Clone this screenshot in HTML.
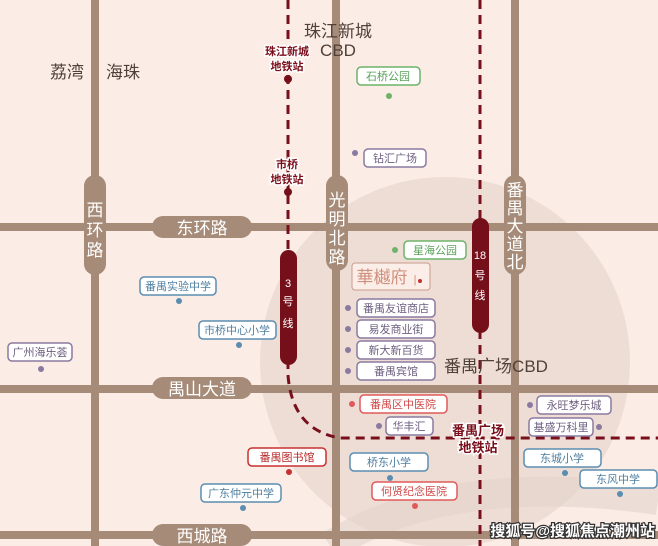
<!DOCTYPE html>
<html><head><meta charset="utf-8"><style>
body{margin:0}
svg{display:block}
text{font-family:"Liberation Sans","Noto Sans CJK SC",sans-serif}
</style></head><body>
<svg width="658" height="546" viewBox="0 0 658 546" xmlns="http://www.w3.org/2000/svg">
<rect width="658" height="546" fill="#fbece5"/>
<circle cx="445" cy="362" r="185" fill="#eeddd5"/>
<path d="M330 546 Q450 470 658 500" stroke="#e2d3cc" stroke-width="30" fill="none" opacity="0.6"/>
<g fill="#a68b78">
<rect x="91" y="0" width="8" height="546"/>
<rect x="332" y="0" width="8" height="546"/>
<rect x="511" y="0" width="8" height="546"/>
<rect x="0" y="223" width="658" height="8"/>
<rect x="0" y="385" width="658" height="8"/>
<rect x="0" y="531" width="658" height="8"/>
<rect x="84" y="175" width="22" height="100" rx="11"/>
<rect x="326" y="175" width="22" height="96" rx="11"/>
<rect x="504" y="175" width="22" height="100" rx="11"/>
<rect x="152" y="216" width="100" height="22" rx="11"/>
<rect x="152" y="377" width="100" height="22" rx="11"/>
<rect x="152" y="524" width="100" height="22" rx="11"/>
</g>
<g fill="#fff" font-size="17" text-anchor="middle">
<text x="95" y="216">西</text><text x="95" y="236">环</text><text x="95" y="256">路</text>
<text x="337" y="206">光</text><text x="337" y="225">明</text><text x="337" y="244">北</text><text x="337" y="263">路</text>
<text x="515" y="196">番</text><text x="515" y="214">禺</text><text x="515" y="232">大</text><text x="515" y="250">道</text><text x="515" y="268">北</text>
<text x="202" y="234">东环路</text>
<text x="202" y="395">禺山大道</text>
<text x="202" y="542">西城路</text>
</g>
<g stroke="#7a0f1c" stroke-width="3" fill="none" stroke-dasharray="9,6">
<path d="M288 0 V375 Q292 430 340 438 H658"/>
<path d="M480 0 V546"/>
</g>
<rect x="280" y="250" width="17" height="115" rx="8.5" fill="#75101a"/>
<rect x="472" y="218" width="17" height="115" rx="8.5" fill="#75101a"/>
<g fill="#fff" font-size="11" text-anchor="middle">
<text x="288" y="287">3</text><text x="288" y="305">号</text><text x="288" y="327">线</text>
<text x="480" y="259">18</text><text x="480" y="279">号</text><text x="480" y="299">线</text>
</g>
<circle cx="288" cy="79" r="4" fill="#75101a"/>
<circle cx="288" cy="192" r="4" fill="#75101a"/>
<g fill="#7a0f1c" font-size="11" font-weight="bold" text-anchor="middle" stroke="#fff" stroke-width="3" paint-order="stroke">
<text x="287" y="55">珠江新城</text><text x="287" y="70">地铁站</text>
<text x="287" y="168">市桥</text><text x="287" y="183">地铁站</text>
<text x="478" y="435" font-size="13">番禺广场</text><text x="478" y="452" font-size="13">地铁站</text>
</g>
<g fill="#4f4039" font-size="17" text-anchor="middle">
<text x="338" y="37">珠江新城</text><text x="338" y="56">CBD</text>
<text x="67" y="78">荔湾</text><text x="123" y="78">海珠</text>
<text x="496" y="372">番禺广场CBD</text>
</g>
<g font-size="11" text-anchor="middle" stroke-width="1.5">
<rect x="357" y="67" width="63" height="18" rx="4" fill="#fff" stroke="#6db36a"/><text x="388" y="80" fill="#5aa058">石桥公园</text>
<rect x="364" y="149" width="62" height="18" rx="4" fill="#fff" stroke="#8a7aa0"/><text x="395" y="162" fill="#6d5f80">钻汇广场</text>
<rect x="404" y="241" width="62" height="18" rx="4" fill="#fff" stroke="#6db36a"/><text x="435" y="254" fill="#5aa058">星海公园</text>
<rect x="357" y="299" width="78" height="18" rx="4" fill="#fff" stroke="#8a7aa0"/><text x="396" y="312" fill="#6d5f80">番禺友谊商店</text>
<rect x="357" y="320" width="78" height="18" rx="4" fill="#fff" stroke="#8a7aa0"/><text x="396" y="333" fill="#6d5f80">易发商业街</text>
<rect x="357" y="341" width="78" height="18" rx="4" fill="#fff" stroke="#8a7aa0"/><text x="396" y="354" fill="#6d5f80">新大新百货</text>
<rect x="357" y="362" width="78" height="18" rx="4" fill="#fff" stroke="#8a7aa0"/><text x="396" y="375" fill="#6d5f80">番禺宾馆</text>
<rect x="140" y="277" width="76" height="18" rx="4" fill="#fff" stroke="#5b8db0"/><text x="178" y="290" fill="#4f7fa0">番禺实验中学</text>
<rect x="199" y="321" width="77" height="18" rx="4" fill="#fff" stroke="#5b8db0"/><text x="237" y="334" fill="#4f7fa0">市桥中心小学</text>
<rect x="8" y="343" width="64" height="18" rx="4" fill="#fff" stroke="#8a7aa0"/><text x="40" y="356" fill="#6d5f80">广州海乐荟</text>
<rect x="360" y="395" width="87" height="18" rx="4" fill="#fff" stroke="#e05a5a"/><text x="403" y="408" fill="#d04848">番禺区中医院</text>
<rect x="386" y="417" width="47" height="18" rx="4" fill="#fff" stroke="#8a7aa0"/><text x="409" y="430" fill="#6d5f80">华丰汇</text>
<rect x="537" y="396" width="74" height="18" rx="4" fill="#fff" stroke="#8a7aa0"/><text x="574" y="409" fill="#6d5f80">永旺梦乐城</text>
<rect x="529" y="418" width="64" height="18" rx="4" fill="#fff" stroke="#8a7aa0"/><text x="561" y="431" fill="#6d5f80">基盛万科里</text>
<rect x="248" y="448" width="78" height="18" rx="4" fill="#fff" stroke="#c83030"/><text x="287" y="461" fill="#b82828">番禺图书馆</text>
<rect x="350" y="453" width="78" height="18" rx="4" fill="#fff" stroke="#5b8db0"/><text x="389" y="466" fill="#4f7fa0">桥东小学</text>
<rect x="372" y="482" width="85" height="18" rx="4" fill="#fff" stroke="#e05a5a"/><text x="414" y="495" fill="#d04848">何贤纪念医院</text>
<rect x="201" y="484" width="80" height="18" rx="4" fill="#fff" stroke="#5b8db0"/><text x="241" y="497" fill="#4f7fa0">广东仲元中学</text>
<rect x="524" y="449" width="77" height="18" rx="4" fill="#fff" stroke="#5b8db0"/><text x="562" y="462" fill="#4f7fa0">东城小学</text>
<rect x="580" y="470" width="77" height="18" rx="4" fill="#fff" stroke="#5b8db0"/><text x="618" y="483" fill="#4f7fa0">东风中学</text>
</g>
<g>
<circle cx="389" cy="96" r="3" fill="#6db36a"/>
<circle cx="355" cy="153" r="3" fill="#8a7aa0"/>
<circle cx="395" cy="250" r="3" fill="#6db36a"/>
<circle cx="348" cy="308" r="3" fill="#8a7aa0"/><circle cx="348" cy="329" r="3" fill="#8a7aa0"/>
<circle cx="348" cy="350" r="3" fill="#8a7aa0"/><circle cx="348" cy="371" r="3" fill="#8a7aa0"/>
<circle cx="179" cy="301" r="3" fill="#5b8db0"/><circle cx="239" cy="345" r="3" fill="#5b8db0"/>
<circle cx="41" cy="369" r="3" fill="#8a7aa0"/>
<circle cx="352" cy="404" r="3" fill="#e05a5a"/><circle cx="379" cy="426" r="3" fill="#8a7aa0"/>
<circle cx="530" cy="405" r="3" fill="#8a7aa0"/><circle cx="599" cy="427" r="3" fill="#8a7aa0"/>
<circle cx="289" cy="472" r="3" fill="#c83030"/><circle cx="390" cy="478" r="3" fill="#5b8db0"/>
<circle cx="415" cy="506" r="3" fill="#e05a5a"/><circle cx="243" cy="508" r="3" fill="#5b8db0"/>
<circle cx="565" cy="473" r="3" fill="#5b8db0"/><circle cx="620" cy="494" r="3" fill="#5b8db0"/>
</g>
<rect x="352" y="263" width="78" height="27" rx="3" fill="#fbeee8" stroke="#c89b8c" stroke-width="1"/>
<text x="382" y="283" font-size="17" fill="#d0907e" text-anchor="middle" font-family="'Noto Serif CJK SC',serif">華樾府</text>
<text x="415" y="283" font-size="11" fill="#d0907e" text-anchor="middle">|</text><circle cx="420" cy="281" r="2" fill="#c83030"/>
<text x="655" y="536" font-size="15" font-weight="bold" fill="#fff" stroke="#333" stroke-width="2.5" paint-order="stroke" text-anchor="end">搜狐号@搜狐焦点潮州站</text>
</svg>
</body></html>
